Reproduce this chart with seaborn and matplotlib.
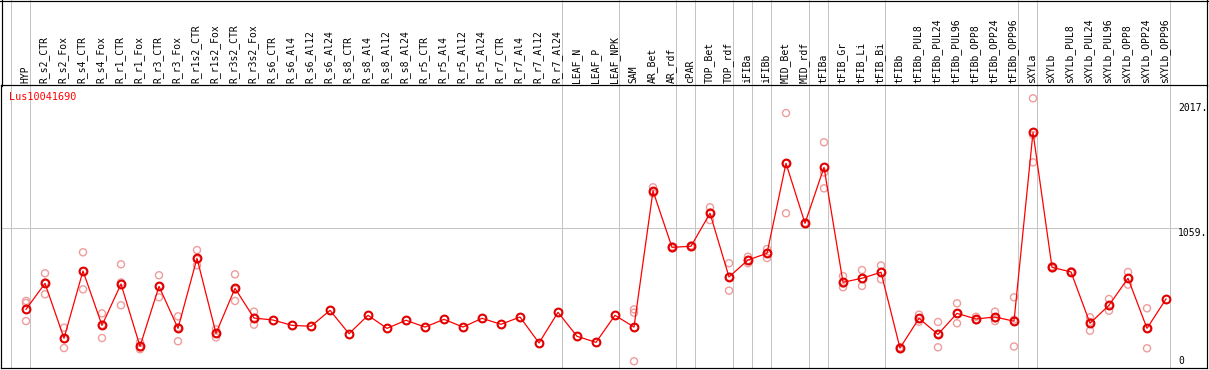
import pandas as pd
import seaborn as sns
import matplotlib.pyplot as plt
from matplotlib.lines import Line2D
from matplotlib.transforms import blended_transform_factory

gene = 'Lus10041690'

categories = ['HYP', 'R_s2_CTR', 'R_s2_Fox', 'R_s4_CTR', 'R_s4_Fox', 'R_r1_CTR', 'R_r1_Fox',
              'R_r3_CTR', 'R_r3_Fox', 'R_r1s2_CTR', 'R_r1s2_Fox', 'R_r3s2_CTR', 'R_r3s2_Fox',
              'R_s6_CTR', 'R_s6_Al4', 'R_s6_Al12', 'R_s6_Al24', 'R_s8_CTR', 'R_s8_Al4',
              'R_s8_Al12', 'R_s8_Al24', 'R_r5_CTR', 'R_r5_Al4', 'R_r5_Al12', 'R_r5_Al24',
              'R_r7_CTR', 'R_r7_Al4', 'R_r7_Al12', 'R_r7_Al24', 'LEAF_N', 'LEAF_P', 'LEAF_NPK',
              'SAM', 'AR_Bet', 'AR_rdf', 'cPAR', 'TOP_Bet', 'TOP_rdf', 'iFIBa', 'iFIBb',
              'MID_Bet', 'MID_rdf', 'tFIBa', 'tFIB_Gr', 'tFIB_Li', 'tFIB_Bi', 'tFIBb',
              'tFIBb_PUL8', 'tFIBb_PUL24', 'tFIBb_PUL96', 'tFIBb_OPP8', 'tFIBb_OPP24',
              'tFIBb_OPP96', 'sXYLa', 'sXYLb', 'sXYLb_PUL8', 'sXYLb_PUL24', 'sXYLb_PUL96',
              'sXYLb_OPP8', 'sXYLb_OPP24', 'sXYLb_OPP96']

means = [436, 635, 214, 730, 313, 630, 152, 612, 290, 827, 252, 597, 369,
         354, 313, 306, 428, 249, 390, 290, 352, 300, 359, 300, 367,
         321, 377, 178, 413, 229, 183, 390,
         300, 1343, 911, 919, 1172, 684, 814, 865,
         1555, 1095, 1524, 643, 674, 720, 139,
         367, 244, 405, 362, 377, 345,
         1792, 758, 722, 329, 467, 674, 290, 515]

replicates = [[500, 484, 346], [712, 642, 551], [295, 208, 139], [873, 728, 589],
              [405, 318, 216], [781, 642, 467], [183, 143, 130], [697, 611, 528],
              [382, 297, 191], [890, 818, 773], [283, 252, 221], [704, 587, 500],
              [418, 371, 318],
              [], [], [], [], [], [], [], [], [], [], [], [], [], [], [], [], [], [], [],
              [436, 410, 38], [1371, 1333, 1325], [903, 918, 912], [912, 925, 920],
              [1218, 1178, 1120], [789, 684, 579], [839, 814, 789], [898, 868, 829],
              [1940, 1553, 1172], [1090, 1100, 1095], [1716, 1484, 1363],
              [691, 633, 605], [737, 670, 615], [772, 722, 666], [131, 145, 141],
              [395, 365, 341], [339, 248, 145], [482, 404, 329], [379, 354, 353],
              [418, 367, 346], [528, 356, 151],
              [2053, 1772, 1562], [750, 765, 758], [716, 728, 722], [375, 340, 272],
              [515, 461, 425], [722, 675, 625], [444, 289, 137], []]

separators_after = [-1, 0, 28, 31, 34, 35, 37, 38, 39, 41, 42, 45, 52, 53, 60]
y_ticks = [2017, 1059, 0]
y_tick_labels = ['2017.', '1059.', '0']

mean_df = pd.DataFrame({'x': range(len(categories)), 'value': means})
rep_df = pd.DataFrame([(i, v) for i, vals in enumerate(replicates) for v in vals],
                      columns=['x', 'value'])

W, H = 1209, 370
px = 72 / 100
mono = 'DejaVu Sans Mono'
grey = '#c4c4c4'

fig = plt.figure(figsize=(W / 100, H / 100), dpi=100)
ax = fig.add_axes([1 / W, 2 / H, 1206 / W, 283 / H])
ax.set_xlim((1 - 26) / 19, (1207 - 26) / 19)
ax.set_ylim(-13.8, 2155)

# group separators run through the header as well
for s in separators_after:
    ax.axvline(s + 0.23, ymin=0, ymax=368 / 283, clip_on=False, color=grey, lw=px, zorder=0)
ax.axhline(1059, xmin=0, xmax=1177 / 1206, color=grey, lw=px, zorder=0)

sns.scatterplot(data=rep_df, x='x', y='value', ax=ax, marker='o', s=26,
                facecolor='none', edgecolor='#ee9c9c', linewidth=1.0, zorder=2)
sns.lineplot(data=mean_df, x='x', y='value', ax=ax, color='red', linewidth=0.9,
             marker='o', markersize=5.6, markerfacecolor='none', markeredgecolor='#e00000',
             markeredgewidth=1.5, zorder=3)

ax.set_xticks([])
ax.set_yticks([])
ax.set_xlabel('')
ax.set_ylabel('')
for sp in ax.spines.values():
    sp.set_color('black')
    sp.set_linewidth(1.2 * px)

# header labels
trans = blended_transform_factory(ax.transData, ax.transAxes)
for i, name in enumerate(categories):
    ax.text(i - 0.05, 1 + 2 / 283, name, rotation=90, ha='center', va='bottom',
            transform=trans, fontsize=7, family=mono, clip_on=False)

ax.text((9 - 26) / 19, (368 - 92) / 283, gene, color='red', ha='left', va='top',
        transform=trans, fontsize=7.3, family=mono)

xl = (1178 - 26) / 19
for v, lab in zip(y_ticks, y_tick_labels):
    ax.text(xl, v, lab, ha='left', va='bottom' if v == 0 else 'top',
            fontsize=7, family=mono)

# outer frame of header
lw = 1.2 * px
fig.add_artist(Line2D([0, 1], [1 - 0.6 / H] * 2, transform=fig.transFigure, color='black', lw=lw))
fig.add_artist(Line2D([1.6 / W] * 2, [1 - 86 / H, 1], transform=fig.transFigure, color='black', lw=lw))
fig.add_artist(Line2D([1207.4 / W] * 2, [1 - 86 / H, 1], transform=fig.transFigure, color='black', lw=lw))

fig.savefig('out.png', dpi=100)
